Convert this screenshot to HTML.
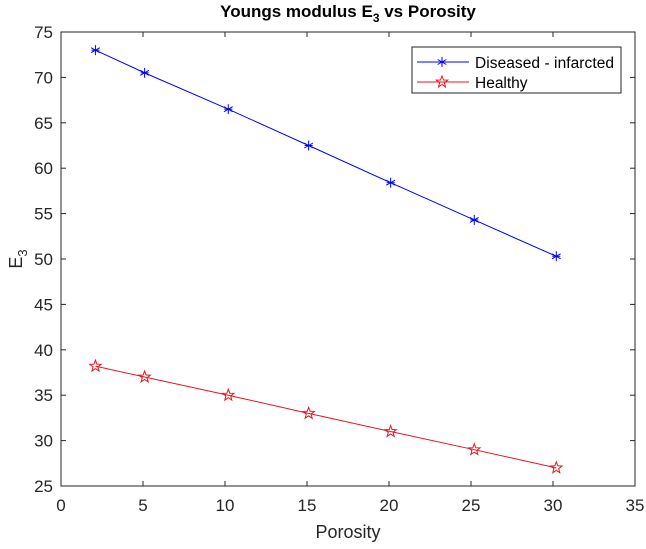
<!DOCTYPE html>
<html><head><meta charset="utf-8"><style>
body{margin:0;background:#fff}
svg{font-family:"Liberation Sans",sans-serif}
</style></head><body>
<svg id="chart" width="646" height="544">
<rect x="0" y="0" width="646" height="544" fill="#fff"/>
<g id="axes"></g><g id="series"></g><g id="leg"></g>
</svg>
<script>
const xs=[2.1,5.1,10.2,15.1,20.1,25.2,30.2];
const diseased=[73,70.5,66.5,62.5,58.4,54.3,50.3];
const healthy=[38.2,37,35,33,31,29,27];
const xTicks=[0,5,10,15,20,25,30,35];
const yTicks=[25,30,35,40,45,50,55,60,65,70,75];
const L=61,R=635,T=32,B=486;
const sx=v=>L+(v-0)/35*(R-L), sy=v=>B-(v-25)/50*(B-T);
const NS="http://www.w3.org/2000/svg";
function mk(p,tag,a){const e=document.createElementNS(NS,tag);for(const k in a)e.setAttribute(k,a[k]);p.appendChild(e);return e;}
const ax=document.getElementById('axes'), se=document.getElementById('series');
let box=mk(ax,'rect',{x:L,y:T,width:R-L,height:B-T,fill:'none',stroke:'#262626','stroke-width':1});


xTicks.forEach(v=>{const x=sx(v);
mk(ax,'line',{x1:x,x2:x,y1:B,y2:B-5,stroke:'#262626'});mk(ax,'line',{x1:x,x2:x,y1:T,y2:T+5,stroke:'#262626'});
const t=mk(ax,'text',{x:x,y:B+25,'text-anchor':'middle','font-size':17,fill:'#262626'});t.textContent=v;

});
yTicks.forEach(v=>{const y=sy(v);
mk(ax,'line',{x1:L,x2:L+5,y1:y,y2:y,stroke:'#262626'});mk(ax,'line',{x1:R,x2:R-5,y1:y,y2:y,stroke:'#262626'});
const t=mk(ax,'text',{x:L-8,y:y+6,'text-anchor':'end','font-size':17,fill:'#262626'});t.textContent=v;

});
function star6(p,x,y,c){for(let a=0;a<3;a++){const r=a*Math.PI/3+Math.PI/2;mk(p,'line',{x1:x-5*Math.cos(r),y1:y-5*Math.sin(r),x2:x+5*Math.cos(r),y2:y+5*Math.sin(r),stroke:c});}mk(p,'line',{x1:x-4,x2:x+4,y1:y,y2:y,stroke:c});}
function pent(p,x,y,c){let pts=[];for(let i=0;i<10;i++){const r=i%2?2.5:6,a=-Math.PI/2+i*Math.PI/5;pts.push((x+r*Math.cos(a)).toFixed(1)+','+(y+r*Math.sin(a)).toFixed(1));}mk(p,'polygon',{points:pts.join(' '),fill:'none',stroke:c});}
function series(ys,c,m,name){const g=mk(se,'g',{});


mk(g,'polyline',{points:xs.map((x,i)=>sx(x)+','+sy(ys[i])).join(' '),fill:'none',stroke:c,'stroke-width':1});
xs.forEach((x,i)=>m(g,sx(x),sy(ys[i]),c));}
series(diseased,'#0000ff',star6,'diseased-series');
series(healthy,'#e8141e',pent,'healthy-series');
const lg=document.getElementById('leg');


mk(lg,'rect',{x:412,y:47,width:209,height:46,fill:'#fff',stroke:'#262626'});
mk(lg,'line',{x1:417,x2:469,y1:62,y2:62,stroke:'#0000ff'});star6(lg,442,62,'#0000ff');
mk(lg,'line',{x1:417,x2:469,y1:82,y2:82,stroke:'#e8141e'});pent(lg,442,82,'#e8141e');
let t1=mk(lg,'text',{x:475,y:68,'font-size':15.5,textLength:139,fill:'#000'});t1.textContent='Diseased - infarcted';
let t2=mk(lg,'text',{x:475,y:88,'font-size':15.5,fill:'#000'});t2.textContent='Healthy';
let ti=mk(ax,'text',{x:348,y:17,'text-anchor':'middle','font-size':17,'font-weight':'bold',fill:'#000'});
ti.innerHTML='Youngs modulus E<tspan dy="5" font-size="12">3</tspan><tspan dy="-5"> vs Porosity</tspan>';


let xl=mk(ax,'text',{x:348,y:538,'text-anchor':'middle','font-size':18,fill:'#262626'});xl.textContent='Porosity';


let yl=mk(ax,'text',{x:0,y:0,transform:'translate(22,259) rotate(-90)','text-anchor':'middle','font-size':18,fill:'#262626'});
yl.innerHTML='E<tspan dy="5" font-size="13">3</tspan>';


</script>
</body></html>
